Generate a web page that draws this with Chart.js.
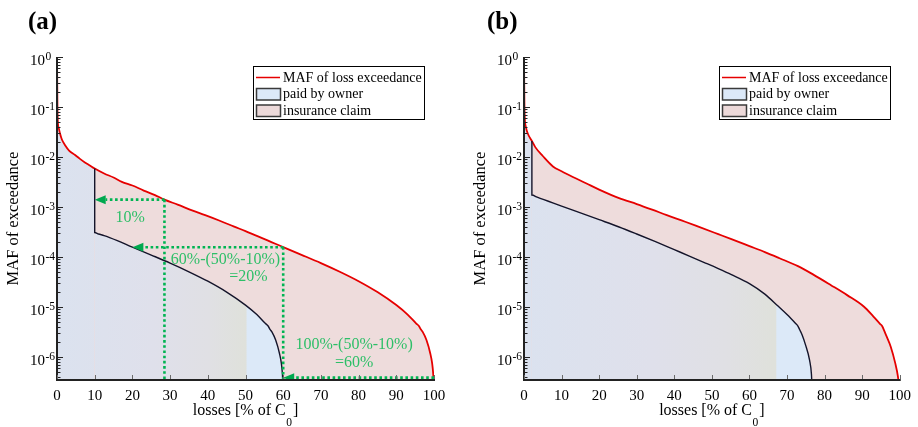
<!DOCTYPE html>
<html>
<head>
<meta charset="utf-8">
<script src="https://cdn.jsdelivr.net/npm/chart.js@4.4.1/dist/chart.umd.min.js"></script>
<style>
  html, body { margin: 0; padding: 0; background: #fff; }
  #wrap { position: relative; width: 918px; height: 427px; overflow: hidden; }
  #wrap canvas { position: absolute; top: 0; }
</style>
</head>
<body>
<div id="wrap">
  <canvas id="panelA" width="459" height="427" style="left:0"></canvas>
  <canvas id="panelB" width="459" height="427" style="left:459px"></canvas>
</div>
<script>
const SERIF = "'Liberation Serif', 'Times New Roman', 'DejaVu Serif', serif";

// ---- axis ticks ----
const xTickValues = [0, 10, 20, 30, 40, 50, 60, 70, 80, 90, 100];
const yDecades = [0, -1, -2, -3, -4, -5, -6];

// ---- panel (a): deductible 10 % ----
const lossA = [0, 0.05, 0.1, 0.2, 0.5, 0.8, 1.3, 2.1, 3.2, 4.8, 6, 7.4, 8.7, 10, 12.5, 15, 17.2, 20, 23, 26,
  28.5, 32, 36, 39.3, 43, 47, 50, 52.5, 56, 60, 65, 70, 75, 80, 85, 90, 93, 95.3, 96, 96.5, 97, 98, 99, 99.5, 99.8, 100];
const mafA = [1, 0.40, 0.138, 0.055, 0.037, 0.0295, 0.0224, 0.0174, 0.0135, 0.011, 0.0093, 0.0078, 0.0068, 0.0059,
  0.0047, 0.0039, 0.0032, 0.0027, 0.00214, 0.00174, 0.00141, 0.00112, 0.00085, 0.00069, 0.00054, 0.000407, 0.000331,
  0.000275, 0.000214, 0.000158, 0.00011, 7.6e-5, 5.1e-5, 3.3e-5, 2.0e-5, 1.1e-5, 7.1e-6, 4.7e-6, 4.2e-6, 3.6e-6,
  3.2e-6, 2.2e-6, 1.2e-6, 7.6e-7, 4.5e-7, 2e-7];
const ownerLossA = [0, 0.05, 0.1, 0.2, 0.5, 0.8, 1.3, 2.1, 3.2, 4.8, 6, 7.4, 8.7, 10, 10, 11, 12.5, 16, 20, 25, 30,
  35, 40, 45, 50, 53, 55.3, 56, 56.5, 57, 58, 59, 59.5, 59.8, 60];
const ownerMafA = [1, 0.40, 0.138, 0.055, 0.037, 0.0295, 0.0224, 0.0174, 0.0135, 0.011, 0.0093, 0.0078, 0.0068, 0.0059,
  3.1e-4, 2.9e-4, 2.7e-4, 2.14e-4, 1.58e-4, 1.1e-4, 7.6e-5, 5.1e-5, 3.3e-5, 2.0e-5, 1.1e-5, 7.1e-6, 4.7e-6, 4.2e-6,
  3.6e-6, 3.2e-6, 2.2e-6, 1.2e-6, 7.6e-7, 4.5e-7, 2e-7];
const deductibleA = 10;

// ---- panel (b) ----
const lossB = [0, 0.05, 0.1, 0.2, 0.5, 1, 2.1, 3, 5, 7.7, 10, 13, 16.5, 20, 25.3, 30, 34.1, 38, 42.9, 46.4,
  51.7, 55.2, 60, 64.1, 68, 72.9, 77, 81.7, 86, 90.5, 93, 94.8, 95.3, 96, 96.5, 97.6, 98.8, 99.5, 100];
const mafB = [1, 0.40, 0.138, 0.063, 0.04, 0.0295, 0.021, 0.0158, 0.0105, 0.0065, 0.0052, 0.004, 0.003, 0.00224,
  0.00151, 0.00115, 0.00089, 0.00069, 0.00051, 0.000407, 0.000288, 0.000229, 0.000166, 0.000126, 9.5e-5, 6.6e-5,
  4.47e-5, 2.75e-5, 1.74e-5, 1.02e-5, 6.5e-6, 4.6e-6, 4.2e-6, 3.2e-6, 2.6e-6, 1.62e-6, 7.6e-7, 4.2e-7, 2e-7];
const ownerLossB = [0, 0.05, 0.1, 0.2, 0.5, 1, 2.1, 2.1, 3.5, 10, 20, 25.3, 30, 35, 40, 44, 48, 51.7, 55.2, 60, 64.1,
  67.6, 70, 72.3, 72.9, 73.4, 74, 74.9, 76, 76.5, 76.7];
const ownerMafB = [1, 0.40, 0.138, 0.063, 0.04, 0.0295, 0.021, 1.74e-3, 1.58e-3, 1.05e-3, 5.6e-4, 4.0e-4, 2.9e-4,
  2.04e-4, 1.41e-4, 1.05e-4, 7.8e-5, 5.9e-5, 4.47e-5, 2.95e-5, 1.82e-5, 1.05e-5, 7.1e-6, 4.7e-6, 4.2e-6, 3.5e-6,
  2.8e-6, 1.78e-6, 8.7e-7, 4.5e-7, 2e-7];
const deductibleB = 2.1;

// ---- worked example in panel (a) ----
const guideFromX = [28.5, 60, 100];
const guideToX = [10, 20, 60];
const guideMaf = [1.41e-3, 1.58e-4, 3.9e-7];
const dropX = [28.5, 60];
const dropMaf = [1.41e-3, 1.58e-4];
const noteLines = ['10%', '60%-(50%-10%)', '=20%', '100%-(50%-10%)', '=60%'];

const legendLabels = ['MAF of loss exceedance', 'paid by owner', 'insurance claim'];

const COLORS = {
  red: '#e60000',
  owner: '#14142a',
  ownerPatch: '#dce9f8',
  claim: '#eedcdc',
  claimPatch: '#ecd9d9',
  axis: '#222222',
  green: '#00b452',
  greenHead: '#00a84f',
  greenText: '#2dbf68'
};

const toPoints = (xs, ys) => xs.map((x, i) => ({ x, y: ys[i] }));

function ownerFill(c, wedgeX) {
  const chart = c.chart;
  if (!chart.chartArea || !chart.scales.x) return '#dee1ec';
  const xs = chart.scales.x;
  const x0 = xs.getPixelForValue(0), x1 = xs.getPixelForValue(wedgeX);
  const g = chart.ctx.createLinearGradient(x0, 0, x1, 0);
  g.addColorStop(0, '#dbe2ef');
  g.addColorStop(0.5, '#dfe0eb');
  g.addColorStop(0.8, '#e0e0e4');
  g.addColorStop(0.995, '#dfe1db');
  g.addColorStop(1, COLORS.ownerPatch);
  return g;
}

const decor = {
  id: 'decor',
  afterDatasetsDraw(chart, args, o) {
    if (!o.example) return;
    const ctx = chart.ctx, a = chart.chartArea;
    const xs = chart.scales.x, ys = chart.scales.y;
    ctx.save();
    ctx.beginPath(); ctx.rect(a.left, a.top - 2, a.right - a.left + 2, a.bottom - a.top + 2); ctx.clip();
    ctx.strokeStyle = COLORS.green; ctx.lineWidth = 2.6; ctx.setLineDash([2.6, 2.6]); ctx.lineCap = 'butt';
    const head = 11;
    guideFromX.forEach((fx, i) => {
      const y = ys.getPixelForValue(guideMaf[i]);
      const x0 = xs.getPixelForValue(fx), x1 = xs.getPixelForValue(guideToX[i]);
      ctx.beginPath(); ctx.moveTo(x0, y); ctx.lineTo(x1 + head, y); ctx.stroke();
    });
    dropX.forEach((dx, i) => {
      const x = xs.getPixelForValue(dx);
      ctx.beginPath(); ctx.moveTo(x, ys.getPixelForValue(dropMaf[i])); ctx.lineTo(x, a.bottom); ctx.stroke();
    });
    ctx.setLineDash([]);
    ctx.fillStyle = COLORS.greenHead;
    guideToX.forEach((tx, i) => {
      const y = ys.getPixelForValue(guideMaf[i]), x = xs.getPixelForValue(tx);
      ctx.beginPath(); ctx.moveTo(x, y); ctx.lineTo(x + head, y - 4.5); ctx.lineTo(x + head, y + 4.5); ctx.closePath(); ctx.fill();
    });
    ctx.restore();
    ctx.save();
    ctx.fillStyle = COLORS.greenText; ctx.font = `16px ${SERIF}`;
    ctx.textAlign = 'center'; ctx.textBaseline = 'middle';
    o.example.forEach((p, i) => {
      ctx.fillText(noteLines[i], xs.getPixelForValue(p[0]), ys.getPixelForValue(p[1]));
    });
    ctx.restore();
  },
  afterDraw(chart, args, o) {
    const ctx = chart.ctx, a = chart.chartArea;
    const xs = chart.scales.x, ys = chart.scales.y;
    ctx.save();
    // axis lines (left and bottom only)
    ctx.strokeStyle = COLORS.axis; ctx.lineWidth = 2;
    ctx.beginPath();
    ctx.moveTo(a.left, a.top); ctx.lineTo(a.left, a.bottom + 1);
    ctx.moveTo(a.left - 1, a.bottom); ctx.lineTo(a.right + 1, a.bottom);
    ctx.stroke();
    // inward tick marks
    ctx.lineWidth = 1;
    yDecades.forEach(p => {
      const y = Math.round(ys.getPixelForValue(Math.pow(10, p))) + 0.5;
      ctx.beginPath(); ctx.moveTo(a.left, y); ctx.lineTo(a.left + 6, y); ctx.stroke();
      for (let m = 2; m <= 9; m++) {
        const v = m * Math.pow(10, p - 1);
        if (v < ys.min) continue;
        const ym = Math.round(ys.getPixelForValue(v)) + 0.5;
        ctx.beginPath(); ctx.moveTo(a.left, ym); ctx.lineTo(a.left + 3.5, ym); ctx.stroke();
      }
    });
    ctx.strokeStyle = '#6a6a6a';
    xTickValues.forEach(v => {
      const x = Math.round(xs.getPixelForValue(v)) + 0.5;
      ctx.beginPath(); ctx.moveTo(x, a.bottom - 1); ctx.lineTo(x, a.bottom - 5); ctx.stroke();
    });
    // decade labels 10^p
    ctx.fillStyle = '#000'; ctx.textBaseline = 'alphabetic';
    yDecades.forEach(p => {
      const y = ys.getPixelForValue(Math.pow(10, p));
      ctx.font = `15px ${SERIF}`; ctx.textAlign = 'right';
      ctx.fillText('10', a.left - 12, y + 8);
      ctx.font = `11.5px ${SERIF}`; ctx.textAlign = 'left';
      ctx.fillText(String(p), a.left - 11.5, y + 3);
    });
    // axis titles
    const cx = (a.left + a.right) / 2;
    ctx.font = `16px ${SERIF}`;
    const t1 = 'losses [% of C', t3 = ']';
    const w1 = ctx.measureText(t1).width, w3 = ctx.measureText(t3).width;
    ctx.font = `11.5px ${SERIF}`;
    const w2 = ctx.measureText('0').width + 1.5;
    const sx = cx - (w1 + w2 + w3) / 2;
    ctx.textAlign = 'left';
    ctx.font = `16px ${SERIF}`; ctx.fillText(t1, sx, 414.5);
    ctx.font = `11.5px ${SERIF}`; ctx.fillText('0', sx + w1 + 0.5, 426);
    ctx.font = `16px ${SERIF}`; ctx.fillText(t3, sx + w1 + w2, 414.5);
    ctx.save();
    ctx.translate(a.left - 43, (a.top + a.bottom) / 2);
    ctx.rotate(-Math.PI / 2);
    ctx.textAlign = 'center'; ctx.textBaseline = 'middle';
    ctx.font = `16.5px ${SERIF}`;
    ctx.fillText('MAF of exceedance', 0, 0);
    ctx.restore();
    // panel tag
    ctx.font = `bold 25px ${SERIF}`; ctx.textAlign = 'left'; ctx.textBaseline = 'alphabetic';
    ctx.fillText(o.tag, 28, 29);
    // legend
    const lw = 171, lh = 53;
    const lx = Math.round(a.right - 10 - lw), ly = Math.round(a.top + 9);
    ctx.fillStyle = '#fff'; ctx.fillRect(lx, ly, lw, lh);
    ctx.strokeStyle = '#000'; ctx.lineWidth = 1; ctx.strokeRect(lx + 0.5, ly + 0.5, lw, lh);
    const rows = [ly + 11.5, ly + 28, ly + 44.5];
    ctx.strokeStyle = COLORS.red; ctx.lineWidth = 1.5;
    ctx.beginPath(); ctx.moveTo(lx + 3, rows[0]); ctx.lineTo(lx + 27, rows[0]); ctx.stroke();
    [[COLORS.ownerPatch, rows[1]], [COLORS.claimPatch, rows[2]]].forEach(([c, y]) => {
      ctx.fillStyle = c; ctx.fillRect(lx + 3.5, y - 5.5, 24, 11.5);
      ctx.strokeStyle = '#3a3a3a'; ctx.lineWidth = 1.5; ctx.strokeRect(lx + 3.5, y - 5.5, 24, 11.5);
    });
    ctx.fillStyle = '#000'; ctx.font = `14px ${SERIF}`; ctx.textBaseline = 'middle'; ctx.textAlign = 'left';
    legendLabels.forEach((t, i) => ctx.fillText(t, lx + 30, rows[i] + 0.5));
    ctx.restore();
  }
};

function makePanel(id, cfg) {
  return new Chart(document.getElementById(id), {
    type: 'line',
    data: {
      datasets: [
        {
          label: legendLabels[0],
          data: toPoints(cfg.loss, cfg.maf),
          borderColor: COLORS.red,
          borderWidth: 1.8,
          backgroundColor: COLORS.claim,
          fill: 'start',
          pointRadius: 0,
          cubicInterpolationMode: 'monotone',
          order: 2
        },
        {
          label: legendLabels[1],
          data: toPoints(cfg.ownerLoss, cfg.ownerMaf),
          borderColor: COLORS.owner,
          borderWidth: 1.4,
          backgroundColor: c => ownerFill(c, cfg.wedgeX),
          fill: 'start',
          pointRadius: 0,
          cubicInterpolationMode: 'monotone',
          order: 1,
          segment: {
            borderColor: s => (s.p0.parsed.x < cfg.deductible ? 'rgba(0,0,0,0)' : COLORS.owner)
          }
        }
      ]
    },
    options: {
      responsive: false,
      animation: false,
      devicePixelRatio: 1,
      layout: { padding: { top: 57, right: cfg.padRight, left: 0, bottom: 0 } },
      plugins: {
        legend: { display: false },
        tooltip: { enabled: false },
        filler: { drawTime: 'beforeDatasetsDraw' },
        decor: { tag: cfg.tag, example: cfg.example }
      },
      scales: {
        x: {
          type: 'linear', min: 0, max: 100, z: 1,
          grid: { display: false, drawTicks: false },
          border: { display: false },
          ticks: { stepSize: 10, color: '#000', font: { family: SERIF, size: 15 }, padding: 7, maxRotation: 0, autoSkip: false },
          afterFit: s => { s.height = 47; }
        },
        y: {
          type: 'logarithmic', min: 3.5e-7, max: 1, z: 1,
          grid: { display: false, drawTicks: false },
          border: { display: false },
          ticks: { display: false },
          afterFit: s => { s.width = cfg.axisWidth; }
        }
      }
    },
    plugins: [decor]
  });
}

makePanel('panelA', {
  tag: '(a)', loss: lossA, maf: mafA, ownerLoss: ownerLossA, ownerMaf: ownerMafA,
  deductible: deductibleA, wedgeX: 50.4, axisWidth: 57, padRight: 25,
  example: [[19.4, 6.0e-4], [44.7, 8.7e-5], [50.8, 4.0e-5], [78.8, 1.75e-6], [78.8, 7.6e-7]]
});
makePanel('panelB', {
  tag: '(b)', loss: lossB, maf: mafB, ownerLoss: ownerLossB, ownerMaf: ownerMafB,
  deductible: deductibleB, wedgeX: 67.3, axisWidth: 65, padRight: 15,
  example: null
});
</script>
</body>
</html>
